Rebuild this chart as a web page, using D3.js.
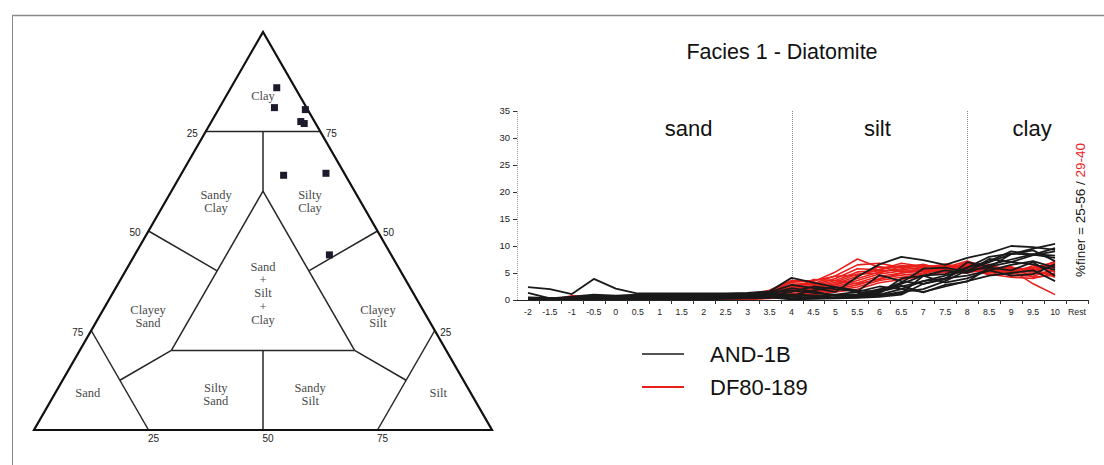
<!DOCTYPE html>
<html>
<head>
<meta charset="utf-8">
<script src="https://cdn.jsdelivr.net/npm/d3@7"></script>
<style>
  html, body { margin: 0; padding: 0; background: #fff; }
  svg { display: block; }
</style>
</head>
<body>
<svg id="chart" width="1104" height="465"></svg>
<script>
// ---------- Ternary diagram data (sand, silt, clay in %) ----------
const ternaryBoundaries = [
  [[25, 0, 75], [0, 25, 75]],
  [[12.5, 12.5, 75], [20, 20, 60]],
  [[20, 20, 60], [60, 20, 20]],
  [[60, 20, 20], [20, 60, 20]],
  [[20, 60, 20], [20, 20, 60]],
  [[40, 20, 40], [50, 0, 50]],
  [[20, 40, 40], [0, 50, 50]],
  [[40, 40, 20], [50, 50, 0]],
  [[75, 0, 25], [75, 25, 0]],
  [[60, 20, 20], [75, 12.5, 12.5]],
  [[25, 75, 0], [0, 75, 25]],
  [[20, 60, 20], [12.5, 75, 12.5]]
];
const ternaryLabels = [
  { lines: ["Clay"], at: [8, 8, 84] },
  { lines: ["Sandy", "Clay"], at: [31.5, 11, 57.5] },
  { lines: ["Silty", "Clay"], at: [11, 31.5, 57.5] },
  { lines: ["Sand", "+", "Silt", "+", "Clay"], at: [32.8, 32.8, 34.4] },
  { lines: ["Clayey", "Sand"], at: [60.8, 10.6, 28.6] },
  { lines: ["Clayey", "Silt"], at: [10.6, 60.8, 28.6] },
  { lines: ["Sand"], at: [83.6, 7.1, 9.3] },
  { lines: ["Silt"], at: [7.1, 83.6, 9.3] },
  { lines: ["Silty", "Sand"], at: [55.8, 35.2, 9] },
  { lines: ["Sandy", "Silt"], at: [35.2, 55.8, 9] }
];
const ternaryTicks = [25, 50, 75];
// Samples: [sand, silt, clay]
const ternarySamples = [
  [4, 10, 86],
  [7, 12, 81],
  [0.5, 19, 80.5],
  [3, 19.5, 77.5],
  [2.5, 20.5, 77],
  [13.5, 22.5, 64],
  [4, 31.5, 64.5],
  [13.5, 42.5, 44]
];

// ---------- Grain-size distribution data ----------
const phiCategories = ["-2", "-1.5", "-1", "-0.5", "0", "0.5", "1", "1.5", "2", "2.5", "3", "3.5",
  "4", "4.5", "5", "5.5", "6", "6.5", "7", "7.5", "8", "8.5", "9", "9.5", "10", "Rest"];
const yTicks = [0, 5, 10, 15, 20, 25, 30, 35];

// AND-1B samples (% per phi class, -2 ... 10)
const and1b = [
  [2.4, 2.0, 1.1, 3.9, 2.1, 1.2, 1.2, 1.2, 1.2, 1.2, 1.3, 1.6, 4.1, 3.2, 2.4, 1.8, 1.5, 2.5, 3.5, 4.5, 5.5, 7.0, 8.5, 9.5, 10.4],
  [1.3, 0.3, 0.6, 1.0, 0.8, 1.0, 1.1, 1.1, 1.1, 1.1, 1.2, 1.4, 2.8, 2.2, 1.5, 4.3, 6.6, 8.0, 7.4, 6.5, 7.8, 8.7, 10.0, 9.8, 9.3],
  [0.2, 0.3, 0.5, 0.8, 0.7, 0.9, 1.0, 1.0, 1.0, 1.0, 1.1, 1.3, 1.8, 1.3, 1.0, 0.8, 1.5, 3.0, 4.5, 5.5, 5.0, 6.5, 7.5, 8.5, 8.2],
  [0.1, 0.2, 0.3, 0.5, 0.6, 0.8, 0.9, 0.9, 0.9, 1.0, 1.0, 1.2, 1.0, 0.8, 0.5, 0.6, 1.0, 2.0, 3.5, 4.0, 4.5, 5.5, 6.5, 7.2, 6.0],
  [0.0, 0.1, 0.2, 0.3, 0.4, 0.5, 0.6, 0.7, 0.7, 0.8, 0.9, 1.1, 0.6, 0.5, 0.4, 0.5, 0.8, 1.5, 2.0, 3.5, 5.5, 6.0, 5.5, 7.0, 4.5],
  [0.0, 0.0, 0.1, 0.2, 0.3, 0.4, 0.5, 0.6, 0.6, 0.7, 0.8, 1.0, 0.3, 0.6, 1.0, 1.5, 2.5, 2.0, 1.5, 2.5, 3.5, 4.5, 5.0, 5.5, 3.5],
  [0.0, 0.0, 0.0, 0.1, 0.2, 0.3, 0.4, 0.5, 0.5, 0.6, 0.7, 0.9, 1.5, 2.5, 2.0, 1.6, 4.6, 3.5, 3.0, 4.0, 6.0, 8.0, 8.6, 8.4, 7.8],
  [0.0, 0.0, 0.1, 0.1, 0.2, 0.3, 0.3, 0.4, 0.4, 0.5, 0.6, 0.8, 0.8, 1.8, 2.4, 1.4, 0.9, 1.2, 4.5, 4.8, 6.0, 7.2, 9.0, 8.4, 9.6],
  [0.0, 0.0, 0.0, 0.0, 0.1, 0.2, 0.2, 0.3, 0.3, 0.4, 0.5, 0.6, 0.2, 0.3, 0.4, 0.8, 1.2, 4.0, 4.5, 3.2, 4.0, 5.5, 4.5, 4.8, 6.6],
  [0.0, 0.0, 0.0, 0.0, 0.0, 0.1, 0.1, 0.2, 0.2, 0.3, 0.4, 0.5, 0.1, 0.2, 0.3, 0.4, 0.6, 1.0, 3.0, 3.8, 7.0, 6.2, 7.0, 8.3, 9.0],
  [0.0, 0.0, 0.0, 0.0, 0.0, 0.0, 0.1, 0.1, 0.1, 0.2, 0.3, 0.4, 1.0, 0.8, 0.9, 1.1, 2.0, 2.6, 1.4, 2.8, 3.4, 6.0, 8.5, 9.2, 7.2],
  [0.5, 0.4, 0.4, 0.6, 0.5, 0.6, 0.7, 0.8, 0.8, 0.9, 1.0, 1.2, 2.2, 1.6, 0.7, 0.9, 1.8, 3.2, 5.8, 6.0, 5.2, 7.6, 7.0, 6.6, 5.6]
];

// DF80-189 samples (% per phi class, -2 ... 10)
const df80189 = [
  [0, 0, 0.5, 0.8, 0.3, 0.2, 0.3, 0.4, 0.5, 0.6, 1.0, 1.8, 3.6, 3.4, 5.2, 7.6, 6.0, 6.2, 6.5, 5.8, 6.8, 5.5, 6.0, 5.5, 6.5],
  [0, 0, 0.3, 0.5, 0.2, 0.2, 0.3, 0.3, 0.4, 0.5, 0.8, 1.5, 3.2, 3.0, 4.5, 6.5, 6.8, 6.0, 6.4, 6.0, 7.2, 5.8, 5.0, 5.0, 4.8],
  [0, 0, 0.2, 0.4, 0.2, 0.1, 0.2, 0.3, 0.3, 0.4, 0.7, 1.3, 2.8, 2.8, 4.0, 5.8, 5.6, 6.8, 6.2, 6.3, 6.0, 6.5, 5.4, 6.0, 7.0],
  [0, 0, 0.1, 0.3, 0.1, 0.1, 0.2, 0.2, 0.3, 0.3, 0.6, 1.2, 2.5, 2.6, 3.6, 5.2, 5.4, 5.6, 6.0, 6.6, 5.8, 5.0, 5.6, 3.0, 1.0],
  [0, 0, 0.1, 0.2, 0.1, 0.1, 0.1, 0.2, 0.2, 0.3, 0.5, 1.0, 2.2, 2.4, 3.3, 4.8, 5.0, 6.2, 5.4, 6.2, 5.5, 6.0, 4.6, 4.4, 5.8],
  [0, 0, 0, 0.1, 0, 0, 0.1, 0.1, 0.2, 0.2, 0.4, 0.9, 2.0, 2.2, 3.0, 4.4, 6.2, 5.2, 5.8, 5.0, 6.6, 5.4, 5.2, 5.6, 6.2],
  [0, 0, 0, 0, 0, 0, 0, 0.1, 0.1, 0.2, 0.3, 0.8, 1.8, 2.0, 2.8, 4.0, 5.2, 5.8, 6.6, 5.4, 7.0, 6.2, 4.8, 6.4, 5.2],
  [0, 0, 0, 0, 0, 0, 0, 0, 0.1, 0.1, 0.3, 0.7, 1.5, 1.8, 2.5, 3.6, 4.8, 5.4, 5.2, 5.6, 6.2, 4.6, 5.8, 5.2, 6.8],
  [0, 0, 0, 0, 0, 0, 0, 0, 0, 0.1, 0.2, 0.6, 1.2, 1.6, 2.2, 3.2, 4.4, 5.0, 5.6, 6.0, 5.6, 5.6, 6.2, 4.2, 4.6],
  [0, 0, 0, 0, 0, 0, 0, 0, 0, 0, 0.2, 0.5, 1.0, 1.4, 2.0, 2.8, 4.0, 4.6, 5.0, 6.4, 5.2, 6.6, 4.4, 4.8, 5.4],
  [0, 0, 0, 0, 0, 0, 0, 0, 0, 0, 0.1, 0.4, 0.8, 1.2, 1.8, 2.4, 3.6, 4.2, 4.8, 5.8, 6.4, 5.2, 5.0, 5.8, 4.2],
  [0, 0, 0, 0, 0, 0, 0, 0, 0, 0, 0.1, 0.3, 0.6, 1.0, 1.5, 2.0, 3.2, 3.8, 4.4, 5.2, 5.0, 5.8, 5.6, 6.0, 6.0],
  [0, 0, 0.8, 0.6, 0.4, 0.3, 0.4, 0.4, 0.5, 0.6, 0.9, 1.6, 3.4, 3.6, 4.4, 4.6, 5.6, 6.4, 6.0, 5.4, 6.6, 6.2, 5.8, 5.4, 7.2],
  [0, 0, 0.2, 0.3, 0.2, 0.2, 0.3, 0.3, 0.4, 0.4, 0.6, 1.0, 2.0, 3.8, 3.6, 3.0, 3.8, 5.0, 5.4, 6.6, 5.8, 4.8, 4.2, 4.0, 5.0]
];

const fractionLabels = [
  { text: "sand", at: "1.5", dx: 7 },
  { text: "silt", at: "6", dx: -2 },
  { text: "clay", at: "9.5", dx: -1 }
];
const fractionBreaks = ["4", "8"];
const legendItems = [
  { name: "AND-1B", color: "#1a1a1a" },
  { name: "DF80-189", color: "#e8201c" }
];

// ---------- Drawing ----------
const svg = d3.select("#chart");
const SANS = "'Liberation Sans', Arial, sans-serif";
const SERIF = "'Liberation Serif', 'Times New Roman', serif";

// panel frame
svg.append("line").attr("x1", 12).attr("x2", 1104).attr("y1", 15.5).attr("y2", 15.5)
  .attr("stroke", "#8a8a8a").attr("stroke-width", 1.5);
svg.append("line").attr("x1", 12.5).attr("x2", 12.5).attr("y1", 15).attr("y2", 465)
  .attr("stroke", "#8a8a8a").attr("stroke-width", 1);

// ----- ternary plot -----
const tri = { left: 34, right: 492, top: 32, bottom: 430 };
const tx = d3.scaleLinear().domain([0, 1]).range([tri.left, tri.right]);
const ty = d3.scaleLinear().domain([0, 1]).range([tri.bottom, tri.top]);
function tern(c) {
  const s = c[0] + c[1] + c[2];
  const silt = c[1] / s, clay = c[2] / s;
  return [tx(silt + clay / 2), ty(clay)];
}
const gT = svg.append("g");

gT.selectAll("line.bound").data(ternaryBoundaries).join("line")
  .attr("class", "bound")
  .attr("x1", d => tern(d[0])[0]).attr("y1", d => tern(d[0])[1])
  .attr("x2", d => tern(d[1])[0]).attr("y2", d => tern(d[1])[1])
  .attr("stroke", "#262626").attr("stroke-width", 1.5);

const corners = [[100, 0, 0], [0, 100, 0], [0, 0, 100]].map(tern);
gT.append("path")
  .attr("d", d3.line()(corners) + "Z")
  .attr("fill", "none").attr("stroke", "#111").attr("stroke-width", 2.2)
  .attr("stroke-linejoin", "miter");

// region names
ternaryLabels.forEach(l => {
  const p = tern(l.at);
  const lh = l.lines.length > 2 ? 13.3 : 13;
  const y0 = p[1] - (l.lines.length - 1) * lh / 2;
  const t = gT.append("text")
    .attr("font-family", SERIF).attr("font-size", 12.5).attr("fill", "#4a4a4a")
    .attr("text-anchor", "middle");
  l.lines.forEach((s, i) => {
    t.append("tspan").attr("x", p[0]).attr("y", y0 + i * lh).attr("dy", "0.35em").text(s);
  });
});

// edge ticks: left edge (sand), right edge (clay), bottom (silt)
ternaryTicks.forEach(v => {
  const pl = tern([v, 0, 100 - v]);
  gT.append("text").attr("x", pl[0] - 13.5).attr("y", pl[1] + 1.5).attr("dy", "0.35em")
    .attr("text-anchor", "middle").attr("font-family", SANS).attr("font-size", 10)
    .attr("fill", "#222").text(v);
  const pr = tern([0, 100 - v, v]);
  gT.append("text").attr("x", pr[0] + 11).attr("y", pr[1] + 1.5).attr("dy", "0.35em")
    .attr("text-anchor", "middle").attr("font-family", SANS).attr("font-size", 10)
    .attr("fill", "#222").text(v);
  const pb = tern([100 - v, v, 0]);
  gT.append("text").attr("x", pb[0] + 5).attr("y", pb[1] + 8).attr("dy", "0.35em")
    .attr("text-anchor", "middle").attr("font-family", SANS).attr("font-size", 10)
    .attr("fill", "#222").text(v);
});

// sample points
const sq = 7;
gT.selectAll("rect.sample").data(ternarySamples).join("rect")
  .attr("class", "sample")
  .attr("x", d => tern(d)[0] - sq / 2).attr("y", d => tern(d)[1] - sq / 2)
  .attr("width", sq).attr("height", sq)
  .attr("fill", "#1c1a2c");

// ----- grain-size line chart -----
const plot = { left: 517, right: 1088, top: 111, bottom: 300 };
const x = d3.scaleBand().domain(phiCategories).range([plot.left, plot.right]);
const bw = x.bandwidth();
const y = d3.scaleLinear().domain([0, 35]).range([plot.bottom, plot.top]);
const gL = svg.append("g");

// title
svg.append("text").attr("x", 782).attr("y", 59).attr("text-anchor", "middle")
  .attr("font-family", SANS).attr("font-size", 21.5).attr("fill", "#111")
  .text("Facies 1 - Diatomite");

// y axis
gL.append("line").attr("x1", plot.left + 0.5).attr("x2", plot.left + 0.5)
  .attr("y1", plot.top).attr("y2", plot.bottom)
  .attr("stroke", "#9a9a9a").attr("stroke-width", 1).attr("stroke-dasharray", "1,1");
yTicks.forEach(v => {
  gL.append("line").attr("x1", plot.left - 4).attr("x2", plot.left)
    .attr("y1", y(v) + 0.5).attr("y2", y(v) + 0.5).attr("stroke", "#333");
  gL.append("text").attr("x", plot.left - 7).attr("y", y(v)).attr("dy", "0.35em")
    .attr("text-anchor", "end").attr("font-family", SANS).attr("font-size", 9.5)
    .attr("fill", "#222").text(v);
});

// fraction boundaries
fractionBreaks.forEach(c => {
  const px = Math.round(x(c) + bw / 2) + 0.5;
  gL.append("line").attr("x1", px).attr("x2", px).attr("y1", plot.top).attr("y2", plot.bottom)
    .attr("stroke", "#8a8a8a").attr("stroke-width", 1).attr("stroke-dasharray", "1,1");
});

// fraction names
fractionLabels.forEach(f => {
  gL.append("text").attr("x", x(f.at) + bw / 2 + f.dx).attr("y", 136)
    .attr("text-anchor", "middle").attr("font-family", SANS).attr("font-size", 22)
    .attr("fill", "#111").text(f.text);
});

// series lines
const line = d3.line()
  .x((d, i) => x(phiCategories[i]) + bw / 2)
  .y(d => y(d));
gL.selectAll("path.df").data(df80189).join("path")
  .attr("class", "df").attr("d", line)
  .attr("fill", "none").attr("stroke", legendItems[1].color).attr("stroke-width", 1.6)
  .attr("stroke-linejoin", "round");
gL.selectAll("path.and").data(and1b).join("path")
  .attr("class", "and").attr("d", line)
  .attr("fill", "none").attr("stroke", legendItems[0].color).attr("stroke-width", 1.8)
  .attr("stroke-linejoin", "round");

// x axis
gL.append("line").attr("x1", plot.left).attr("x2", plot.right)
  .attr("y1", plot.bottom + 0.5).attr("y2", plot.bottom + 0.5)
  .attr("stroke", "#222").attr("stroke-width", 1);
phiCategories.forEach((c, i) => {
  const bx = Math.round(x(c) + bw) + 0.5;
  gL.append("line").attr("x1", bx).attr("x2", bx).attr("y1", plot.bottom).attr("y2", plot.bottom + 4)
    .attr("stroke", "#333");
  gL.append("text").attr("x", x(c) + bw / 2).attr("y", 312).attr("dy", "0.35em")
    .attr("text-anchor", "middle").attr("font-family", SANS).attr("font-size", 8.8)
    .attr("fill", "#222").text(c);
});

// range note, rotated
const note = svg.append("text")
  .attr("transform", "translate(1085,210) rotate(-90)")
  .attr("text-anchor", "middle").attr("font-family", SANS).attr("font-size", 13.5)
  .attr("fill", "#111");
note.append("tspan").text("%finer = 25-56 / ");
note.append("tspan").attr("fill", legendItems[1].color).text("29-40");

// legend
legendItems.forEach((d, i) => {
  const ly = 354 + i * 33;
  svg.append("line").attr("x1", 642).attr("x2", 684).attr("y1", ly).attr("y2", ly)
    .attr("stroke", d.color).attr("stroke-width", i === 0 ? 1.3 : 2);
  svg.append("text").attr("x", 710).attr("y", ly).attr("dy", "0.35em")
    .attr("font-family", SANS).attr("font-size", 22).attr("fill", "#111").text(d.name);
});
</script>
</body>
</html>
